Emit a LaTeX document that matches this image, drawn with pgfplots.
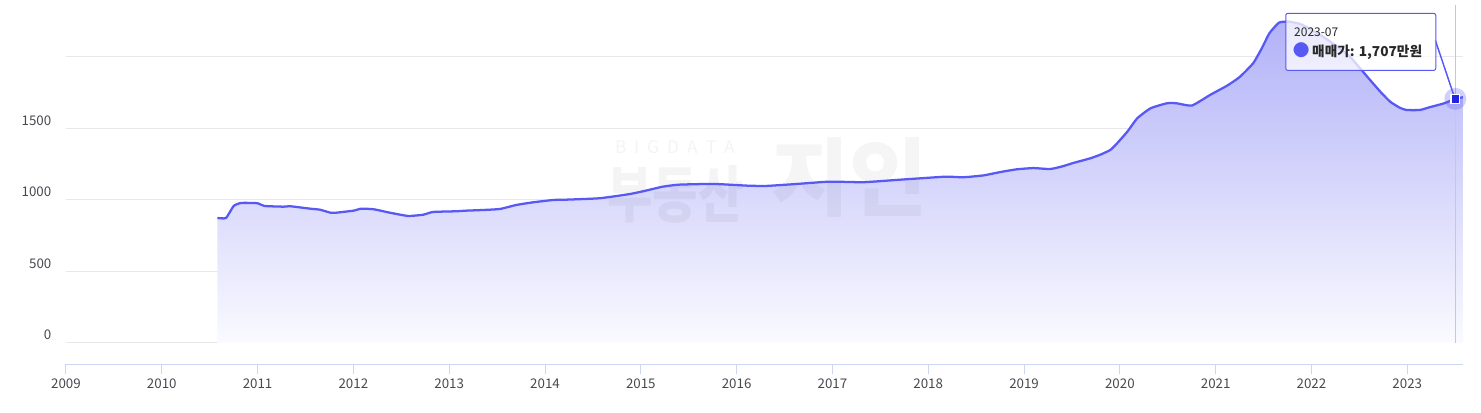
\documentclass[border=0pt]{standalone}
\usepackage{fontspec}
\setmainfont{Noto Sans CJK KR}
\usepackage{pgfplots}
\pgfplotsset{compat=1.18}
\usepackage{pgfplotstable}

\definecolor{lineblue}{RGB}{88,88,245}
\definecolor{markblue}{RGB}{35,35,225}
\definecolor{gridgray}{RGB}{232,232,236}
\definecolor{axisblue}{RGB}{205,214,240}
\definecolor{labelgray}{RGB}{72,72,80}
\definecolor{filltop}{RGB}{178,178,248}
\definecolor{fillbot}{RGB}{250,250,255}
\definecolor{hairgray}{RGB}{200,200,210}
\definecolor{tiptext}{RGB}{40,40,40}

% monthly sale price (만원)
\pgfplotstableread{
x y
2010.58 874
2010.67 874
2010.75 958
2010.83 979
2011.00 977
2011.07 958
2011.27 953
2011.34 956
2011.55 939
2011.65 932
2011.76 911
2011.82 911
2012.00 925
2012.08 939
2012.21 935
2012.38 911
2012.57 888
2012.73 897
2012.83 916
2013.08 921
2013.17 925
2013.36 930
2013.53 937
2013.70 965
2013.88 984
2014.09 1000
2014.22 1002
2014.57 1012
2014.89 1042
2015.05 1065
2015.23 1093
2015.40 1107
2015.76 1112
2016.11 1100
2016.31 1098
2016.63 1112
2016.97 1128
2017.32 1124
2017.67 1140
2018.02 1156
2018.19 1163
2018.33 1159
2018.40 1160
2018.58 1172
2018.75 1195
2018.92 1214
2019.10 1223
2019.27 1216
2019.40 1235
2019.51 1258
2019.69 1291
2019.80 1318
2019.90 1350
2019.97 1396
2020.08 1480
2020.18 1571
2020.32 1641
2020.49 1676
2020.59 1676
2020.75 1660
2020.94 1734
2021.12 1800
2021.25 1860
2021.39 1956
2021.48 2060
2021.56 2166
2021.66 2240
2021.76 2247
2021.88 2231
2022.00 2190
2022.12 2142
2022.26 2075
2022.40 2002
2022.50 1925
2022.61 1839
2022.72 1755
2022.82 1687
2022.92 1645
2022.99 1629
2023.13 1629
2023.23 1648
2023.38 1675
2023.50 1707
2023.58 1718
}\pricedata

\begin{document}
\begin{tikzpicture}
\useasboundingbox (-49.5pt,-36pt) rectangle (1061.25pt,273pt);
\begin{axis}[
  at={(0,0)}, anchor=south west,
  scale only axis, width=1047.75pt, height=273pt,
  xmin=2009, xmax=2023.58, ymin=-147, ymax=2398,
  clip=false,
  axis x line*=bottom, axis y line*=left,
  x axis line style={-, draw=axisblue, line width=0.75pt},
  y axis line style={draw=none},
  xtick={2009,...,2023},
  ytick={0,500,1000,1500,2000},
  yticklabels={0,500,1000,1500,},
  /pgf/number format/1000 sep={},
  /pgf/number format/assume math mode=true,
  tick align=outside, major tick length=7.5pt,
  xtick style={draw=axisblue, line width=0.75pt},
  ytick style={draw=none},
  ymajorgrids, grid style={gridgray, line width=0.75pt},
  ticklabel style={font=\fontsize{10pt}{11pt}\selectfont, text=labelgray},
  yticklabel style={anchor=base east, yshift=2.25pt},
]
% area under the line
\addplot[draw=none, top color=filltop, bottom color=fillbot, smooth, tension=0.3]
  table[x=x, y=y] {\pricedata} \closedcycle;

% watermark
\node[text=black, text opacity=0.045, font=\fontsize{13pt}{13pt}\selectfont]
  at (axis cs:2015.36,1371) {B\kern6pt I\kern6pt G\kern6pt D\kern6pt A\kern6pt T\kern6pt A};
\node[text=black, text opacity=0.045, font=\fontsize{37pt}{37pt}\selectfont\bfseries, yscale=1.25]
  at (axis cs:2015.36,1035) {부동산};
\node[text=black, text opacity=0.038, font=\fontsize{64pt}{64pt}\selectfont\bfseries]
  at (axis cs:2017.18,1154) {지인};

% hover line
\draw[hairgray, line width=0.75pt] (axis cs:2023.5,0) -- (axis cs:2023.5,2364);

\addplot[lineblue, line width=1.7pt, line join=round, smooth, tension=0.3]
  table[x=x, y=y] {\pricedata};

% tooltip
\draw[lineblue, line width=1.1pt] (axis cs:2023.29,2119) -- (axis cs:2023.49,1720);
\node[draw=lineblue, line width=0.75pt, fill=white, fill opacity=0.75,
  rounded corners=1.5pt, anchor=north west, inner sep=0pt,
  minimum width=112.5pt, minimum height=42.75pt]
  (tip) at (axis cs:2021.725,2308) {};
\node[anchor=base west, inner sep=0pt, text=tiptext, font=\fontsize{9pt}{11pt}\selectfont]
  at ([xshift=6.5pt, yshift=-18pt]tip.north west) {2023-07};
\node[anchor=base west, inner sep=0pt, text=tiptext]
  at ([xshift=5.5pt, yshift=-33pt]tip.north west)
  {{\fontsize{12.5pt}{12pt}\selectfont\textcolor{lineblue}{●}}\hspace{2pt}%
   {\fontsize{10.25pt}{12pt}\selectfont\bfseries 매매가: 1,707만원}};

% hovered point
\addplot[only marks, mark=*, mark size=8.25pt,
  mark options={draw=lineblue, draw opacity=0, fill=lineblue, fill opacity=0.28}]
  coordinates {(2023.5,1707)};
\addplot[only marks, mark=square*, mark size=3.3pt,
  mark options={draw=white, line width=0.9pt, fill=markblue}]
  coordinates {(2023.5,1707)};
\end{axis}
\end{tikzpicture}
\end{document}
